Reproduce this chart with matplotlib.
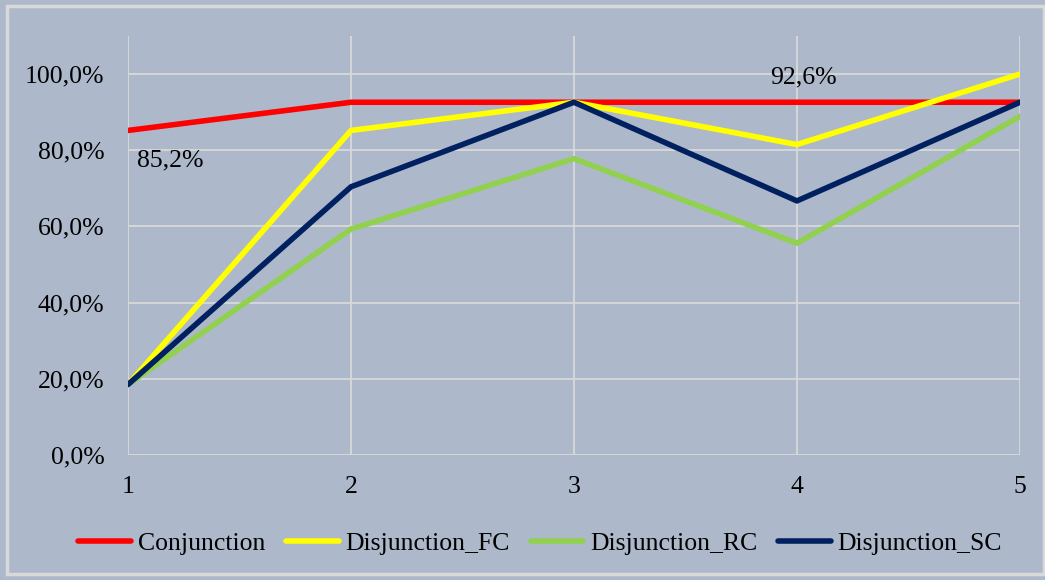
import matplotlib.pyplot as plt
from matplotlib.patches import Rectangle
from matplotlib.ticker import FuncFormatter

x = [1, 2, 3, 4, 5]
conjunction = [85.2, 92.6, 92.6, 92.6, 92.6]
disjunction_fc = [18.5, 85.2, 92.6, 81.5, 100.0]
disjunction_rc = [18.5, 59.3, 77.8, 55.6, 88.9]
disjunction_sc = [18.5, 70.4, 92.6, 66.7, 92.6]

series = [
    ("Conjunction", conjunction, "#FF0000"),
    ("Disjunction_FC", disjunction_fc, "#FFFF00"),
    ("Disjunction_RC", disjunction_rc, "#92D050"),
    ("Disjunction_SC", disjunction_sc, "#002060"),
]

bg = "#ADB9CA"
grid = "#D9D9D9"
fs = 18.5

plt.rcParams['font.family'] = ['Liberation Serif', 'DejaVu Serif']

fig = plt.figure(figsize=(10.45, 5.8), dpi=100)
fig.patch.set_facecolor(bg)
fig.patches.append(Rectangle((0.007, 0.01), 0.992, 0.98, transform=fig.transFigure,
                             fill=False, edgecolor=grid, linewidth=2.5))

ax = fig.add_axes([0.1225, 0.2155, 0.8535, 0.7225])
ax.set_facecolor(bg)

for name, vals, color in series:
    ax.plot(x, vals, color=color, linewidth=4, label=name, solid_capstyle='round')

ax.set_xlim(1, 5)
ax.set_ylim(0, 110)
ax.set_xticks(x)
ax.set_yticks([0, 20, 40, 60, 80, 100])
ax.yaxis.set_major_formatter(FuncFormatter(lambda v, p: f"{v:.1f}%".replace(".", ",")))
ax.tick_params(length=0, labelsize=fs)
ax.tick_params(axis='y', pad=17)
ax.tick_params(axis='x', pad=15)
ax.grid(True, color=grid, linewidth=1.3)
ax.set_axisbelow(True)
for s in ax.spines.values():
    s.set_visible(False)

ax.annotate("85,2%", (x[0], conjunction[0]), xytext=(42, -30), textcoords='offset pixels',
            ha='center', va='center', fontsize=fs)
ax.annotate("92,6%", (x[3], conjunction[3]), xytext=(6, 25), textcoords='offset pixels',
            ha='center', va='center', fontsize=fs)

fig.legend(loc='center', bbox_to_anchor=(0.517, 0.063), ncol=4, frameon=False,
           fontsize=fs, handlelength=2.05, handletextpad=0.27, columnspacing=0.8)

fig.savefig("out.png", dpi=100, facecolor=fig.get_facecolor())
